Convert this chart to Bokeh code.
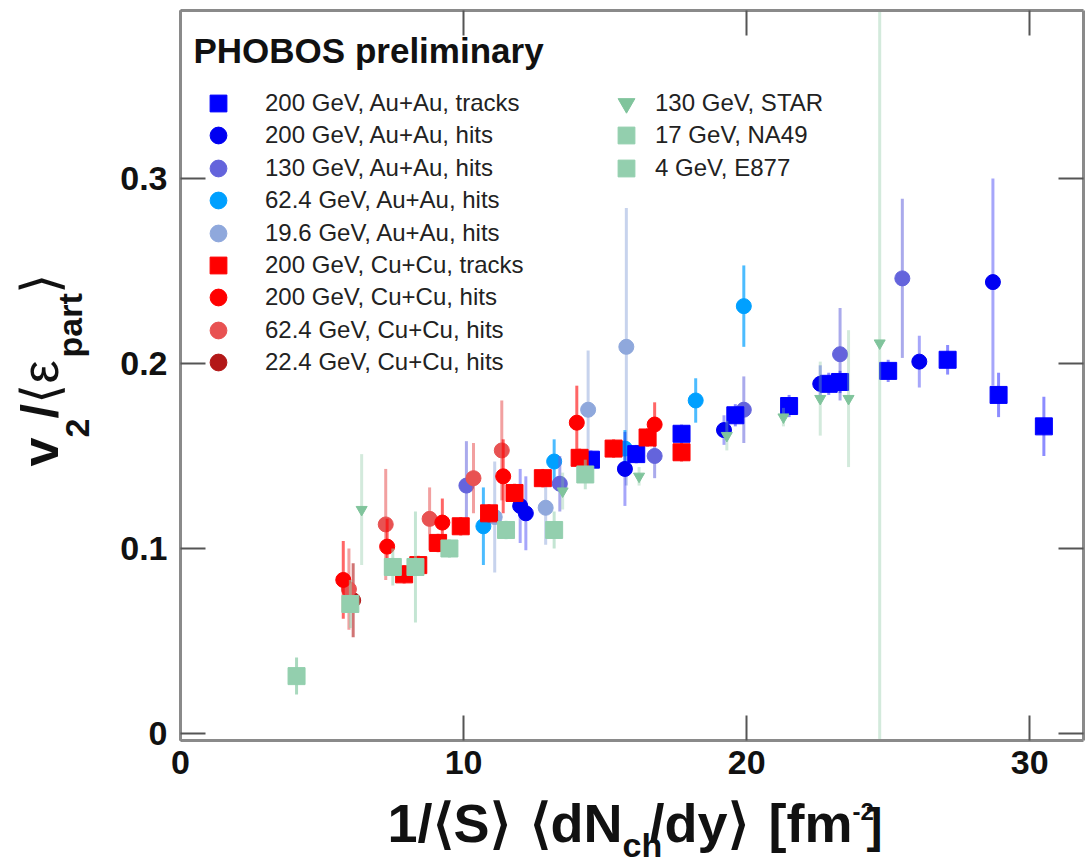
import numpy as np
from bokeh.plotting import figure
from bokeh.layouts import row, column
from bokeh.models import (ColumnDataSource, Range1d, FixedTicker, LinearAxis,
                          Legend, LegendItem, Label)
from bokeh.embed import file_html
from bokeh.resources import INLINE

FONT = "Liberation Sans"

# ---------------- data ----------------
auau200_trk_x = [14.5, 16.1, 17.7, 19.6, 21.5, 22.9, 23.3, 25.0, 27.1, 28.9, 30.5]
auau200_trk_y = [0.148, 0.151, 0.162, 0.172, 0.177, 0.189, 0.190, 0.196, 0.202, 0.183, 0.166]
auau200_trk_e = [0.005, 0.005, 0.005, 0.006, 0.006, 0.006, 0.006, 0.006, 0.008, 0.012, 0.016]

auau200_hit_x = [12.0, 12.2, 15.7, 19.2, 22.6, 26.1, 28.7]
auau200_hit_y = [0.123, 0.119, 0.143, 0.164, 0.189, 0.201, 0.244]
auau200_hit_e = [0.02, 0.02, 0.02, 0.008, 0.01, 0.014, 0.056]

auau130_hit_x = [10.1, 13.4, 16.75, 19.9, 23.3, 25.5]
auau130_hit_y = [0.134, 0.135, 0.150, 0.175, 0.205, 0.246]
auau130_hit_e = [0.024, 0.015, 0.012, 0.018, 0.025, 0.043]

auau62_hit_x = [10.7, 13.2, 15.7, 18.2, 19.9]
auau62_hit_y = [0.112, 0.147, 0.154, 0.180, 0.231]
auau62_hit_e = [0.021, 0.012, 0.01, 0.012, 0.022]

auau19_hit_x = [11.1, 12.9, 14.4, 15.75]
auau19_hit_y = [0.117, 0.122, 0.175, 0.209]
auau19_hit_e = [0.03, 0.02, 0.032, 0.075]

cucu200_trk_x = [7.9, 8.4, 9.1, 9.9, 10.9, 11.8, 12.8, 14.1, 15.3, 16.5, 17.7]
cucu200_trk_y = [0.086, 0.091, 0.103, 0.112, 0.119, 0.130, 0.138, 0.149, 0.154, 0.160, 0.152]
cucu200_trk_e = [0.005] * 11

cucu200_hit_x = [5.75, 7.3, 9.25, 11.4, 14.0, 16.75]
cucu200_hit_y = [0.083, 0.101, 0.114, 0.139, 0.168, 0.167]
cucu200_hit_e = [0.021, 0.015, 0.013, 0.02, 0.02, 0.012]

cucu62_hit_x = [5.95, 7.25, 8.8, 10.35, 11.35]
cucu62_hit_y = [0.078, 0.113, 0.116, 0.138, 0.153]
cucu62_hit_e = [0.022, 0.03, 0.017, 0.019, 0.027]

cucu22_hit_x = [6.1]
cucu22_hit_y = [0.072]
cucu22_hit_e = [0.02]

star_x = [6.4, 13.5, 16.2, 19.3, 21.3, 22.6, 23.6, 24.7]
star_y = [0.121, 0.131, 0.139, 0.161, 0.171, 0.181, 0.181, 0.211]
star_e = [0.03, 0.01, 0.005, 0.008, 0.005, 0.02, 0.037, 0.6]

na49_x = [6.0, 7.5, 8.3, 9.5, 11.5, 13.2, 14.3]
na49_y = [0.070, 0.090, 0.090, 0.100, 0.110, 0.110, 0.140]
na49_e = [0.013, 0.01, 0.03, 0.005, 0.005, 0.01, 0.008]

e877_x = [4.1]
e877_y = [0.031]
e877_e = [0.01]

x_ticks = [0, 10, 20, 30]
x_tick_labels = ["0", "10", "20", "30"]
y_ticks = [0, 0.1, 0.2, 0.3]
y_tick_labels = ["0", "0.1", "0.2", "0.3"]

# (legend label, x, y, err, marker, color, size, bar alpha)
series = {
    "auau200trk": ("200 GeV, Au+Au, tracks", auau200_trk_x, auau200_trk_y, auau200_trk_e, "square", "#0000ff", 17, 0.45),
    "auau200hit": ("200 GeV, Au+Au, hits", auau200_hit_x, auau200_hit_y, auau200_hit_e, "circle", "#0000f2", 15, 0.35),
    "auau130": ("130 GeV, Au+Au, hits", auau130_hit_x, auau130_hit_y, auau130_hit_e, "circle", "#6464dc", 15, 0.55),
    "auau62": ("62.4 GeV, Au+Au, hits", auau62_hit_x, auau62_hit_y, auau62_hit_e, "circle", "#00a0ff", 15, 0.7),
    "auau19": ("19.6 GeV, Au+Au, hits", auau19_hit_x, auau19_hit_y, auau19_hit_e, "circle", "#8fa8dc", 15, 0.5),
    "cucu200trk": ("200 GeV, Cu+Cu, tracks", cucu200_trk_x, cucu200_trk_y, cucu200_trk_e, "square", "#ff0000", 17, 0.6),
    "cucu200hit": ("200 GeV, Cu+Cu, hits", cucu200_hit_x, cucu200_hit_y, cucu200_hit_e, "circle", "#ff0000", 15, 0.6),
    "cucu62": ("62.4 GeV, Cu+Cu, hits", cucu62_hit_x, cucu62_hit_y, cucu62_hit_e, "circle", "#e85252", 15, 0.55),
    "cucu22": ("22.4 GeV, Cu+Cu, hits", cucu22_hit_x, cucu22_hit_y, cucu22_hit_e, "circle", "#b31818", 15, 0.6),
    "star": ("130 GeV, STAR", star_x, star_y, star_e, "inverted_triangle", "#80c49c", 11, 0.35),
    "na49": ("17 GeV, NA49", na49_x, na49_y, na49_e, "square", "#93cfae", 17, 0.55),
    "e877": ("4 GeV, E877", e877_x, e877_y, e877_e, "square", "#93cfae", 17, 0.8),
}
draw_order = ["auau19", "auau62", "auau130", "auau200hit", "auau200trk",
              "cucu22", "cucu62", "cucu200hit", "cucu200trk", "star", "na49", "e877"]
legend1_keys = ["auau200trk", "auau200hit", "auau130", "auau62", "auau19",
                "cucu200trk", "cucu200hit", "cucu62", "cucu22"]
legend2_keys = ["star", "na49", "e877"]

# ---------------- page geometry ----------------
LEFT_W = 100          # width of the y-title strip
BORDER_L = 80         # main figure left border (tick labels)
FX = LEFT_W + BORDER_L  # frame left in page px (180)
TOP = 10
FH, FW = 730, 903
FY = TOP + FH         # frame bottom in page px (740)
BORDER_B = 52
MAIN_H = TOP + FH + BORDER_B   # 792
MAIN_W = BORDER_L + FW + 3     # 986
XT_H = 72

# ---------------- main figure (fixed canvas size) ----------------
p = figure(width=MAIN_W, height=MAIN_H,
           x_range=Range1d(0, 31.9), y_range=Range1d(-0.0038, 0.3908),
           output_backend="svg", toolbar_location=None,
           min_border_left=BORDER_L, min_border_right=3, min_border_top=TOP,
           min_border_bottom=BORDER_B)
p.grid.grid_line_color = None
p.outline_line_color = None

AX_COL = "#8a8a8a"
TICK_COL = "#555555"

def style_axis(ax, labels=True):
    ax.axis_label = None
    ax.axis_label_standoff = 0
    ax.axis_line_color = AX_COL
    ax.axis_line_width = 3
    ax.major_tick_in = 25
    ax.major_tick_out = 0
    ax.major_tick_line_color = TICK_COL
    ax.major_tick_line_width = 2
    ax.minor_tick_line_color = None
    ax.major_label_text_font = FONT
    ax.major_label_text_font_style = "bold"
    ax.major_label_text_color = "#111111"
    if labels:
        ax.major_label_text_font_size = "34px"
        ax.major_label_standoff = 10
    else:
        ax.major_label_text_font_size = "0px"
        ax.major_label_standoff = 0

xa = p.xaxis[0]
xa.ticker = FixedTicker(ticks=x_ticks)
xa.major_label_overrides = {t: l for t, l in zip(x_ticks, x_tick_labels)}
style_axis(xa)
ya = p.yaxis[0]
ya.ticker = FixedTicker(ticks=y_ticks)
ya.major_label_overrides = {t: l for t, l in zip(y_ticks, y_tick_labels)}
style_axis(ya)
ya.major_label_standoff = 13

top = LinearAxis(ticker=FixedTicker(ticks=x_ticks),
                 major_label_overrides={t: "" for t in x_ticks})
style_axis(top, labels=False)
p.add_layout(top, "above")
right = LinearAxis(ticker=FixedTicker(ticks=y_ticks),
                   major_label_overrides={t: "" for t in y_ticks})
style_axis(right, labels=False)
p.add_layout(right, "right")

renderers = {}
for key in draw_order:
    label, xs, ys, es, marker, color, size, balpha = series[key]
    xs = np.asarray(xs, float); ys = np.asarray(ys, float); es = np.asarray(es, float)
    src = ColumnDataSource(dict(x=xs, y=ys, lo=ys - es, hi=ys + es))
    p.segment(x0="x", y0="lo", x1="x", y1="hi", source=src,
              line_color=color, line_alpha=balpha, line_width=3)
    r = p.scatter(x="x", y="y", source=src, marker=marker, size=size,
                  fill_color=color, line_color=color, line_width=1)
    renderers[key] = r

# one legend per entry so that rows can be packed tightly with big markers
GLY = 42
def add_entry(key, cx, cy, standoff):
    leg = Legend(items=[LegendItem(label=series[key][0], renderers=[renderers[key]])],
                 location=(cx - GLY / 2 - FX, FY - cy - GLY / 2),
                 glyph_height=GLY, glyph_width=GLY, label_standoff=standoff,
                 padding=0, margin=0, spacing=0,
                 background_fill_alpha=0, border_line_color=None,
                 label_text_font=FONT, label_text_font_size="24px",
                 label_text_color="#222222")
    p.add_layout(leg)

ROW0, PITCH = 103, 32.4
for i, k in enumerate(legend1_keys):
    add_entry(k, 218, ROW0 + PITCH * i, 26)
for i, k in enumerate(legend2_keys):
    add_entry(k, 626, ROW0 + PITCH * i, 8)

p.add_layout(Label(x=193 - FX, y=FY - 69, x_units="screen", y_units="screen",
                   text="PHOBOS preliminary", text_font=FONT, text_font_size="35px",
                   text_font_style="bold", text_color="#111111"))

# ---------------- title strips ----------------
def strip(w, h, xr, yr):
    f = figure(width=w, height=h, x_range=Range1d(*xr), y_range=Range1d(*yr),
               output_backend="svg", toolbar_location=None, min_border=0,
               x_axis_location=None, y_axis_location=None)
    f.grid.grid_line_color = None
    f.outline_line_color = None
    return f

# y strip: page coordinates directly
yt = strip(LEFT_W, MAIN_H, (0, LEFT_W), (MAIN_H, 0))
# x strip: its frame is aligned with the main frame by the column layout
xt = strip(MAIN_W, XT_H, (FX, FX + FW), (MAIN_H + XT_H, MAIN_H))

DESC = 0.212  # descent of the font, in em

def txt(f, text, px, py, size, bold=True, align="left"):
    # (px, py): left/right end and baseline, page pixels
    f.add_layout(Label(x=px, y=py + DESC * size, text=text, text_font=FONT,
                       text_font_size=f"{size}px",
                       text_font_style="bold" if bold else "normal",
                       text_align=align, text_baseline="bottom",
                       text_color="#111111"))

def vtxt(f, text, bx, py, size, bold=True):
    # rotated text reading upwards; bx: baseline x, py: start (bottom end)
    f.add_layout(Label(x=bx + DESC * size, y=py, text=text, text_font=FONT,
                       text_font_size=f"{size}px",
                       text_font_style="bold" if bold else "normal",
                       text_align="left", text_baseline="bottom", angle=np.pi / 2,
                       text_color="#111111"))

# x-axis title: 1/<S> <dN_ch/dy> [fm^-2]
BASE = 841
txt(xt, "1/\u27e8S\u27e9", 387, BASE, 54)
txt(xt, "\u27e8dN", 622, BASE, 54, align="right")
txt(xt, "ch", 622, 856, 34)
txt(xt, "/dy\u27e9", 649, BASE, 54)
txt(xt, "[fm", 852, BASE, 54, align="right")
txt(xt, "-2", 852, 814, 24)
txt(xt, "]", 866, BASE, 48)

# y-axis title: v_2/<eps_part>
vtxt(yt, "v", 57, 466, 52)
vtxt(yt, "2", 81, 437, 34)
vtxt(yt, "/", 57, 418, 52)
vtxt(yt, "\u27e8\u03b5", 57, 403, 52, bold=False)
vtxt(yt, "part", 81, 357, 34)
vtxt(yt, "\u27e9", 57, 293, 52, bold=False)

layout = row(yt, column(p, xt))
open("out.html", "w").write(file_html(layout, INLINE))
